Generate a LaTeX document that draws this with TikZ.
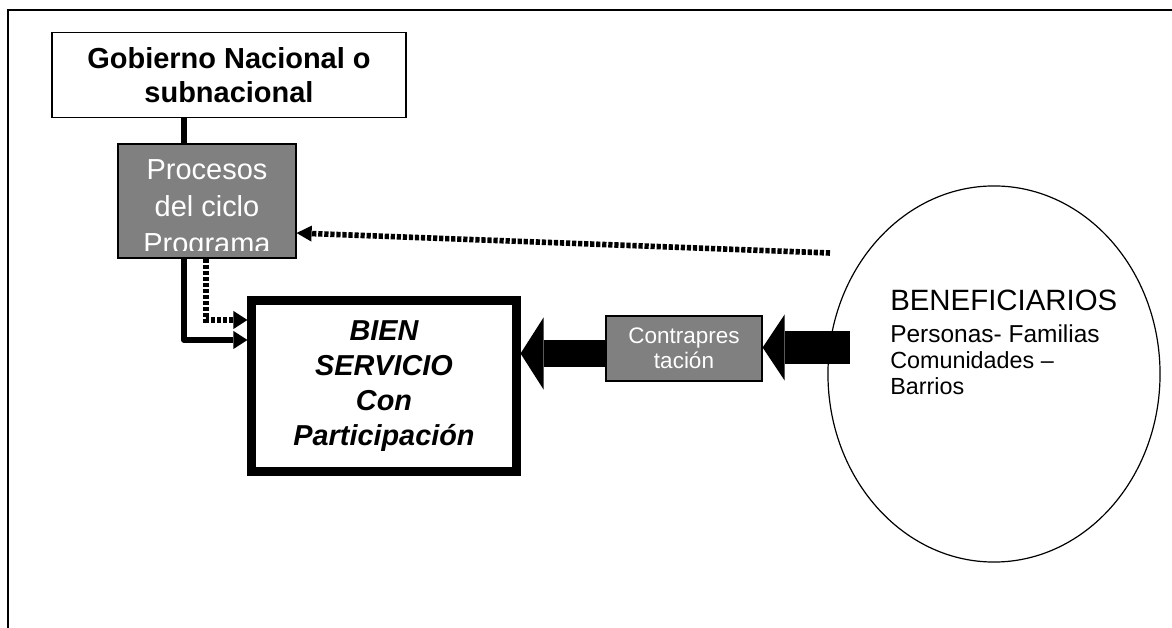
\documentclass[tikz,border=0pt]{standalone}
\usepackage{fontspec}
\setmainfont{Liberation Sans}
\usepackage{tikz}
\usetikzlibrary{arrows.meta,shapes.geometric,positioning}

\begin{document}
\begin{tikzpicture}[x=0.025cm, y=-0.025cm,
	box/.style={draw, line width=0.03cm, inner sep=0},
	greybox/.style={box, fill=black!50, text=white},
	conn/.style={line width=0.15cm, line join=round},
	dots/.style={line width=0.14cm, dash pattern=on 3pt off 1.3pt},
	tip/.style={-{Triangle[length=0.35cm, width=0.45cm, line width=0pt]}}]
	% page frame
	\useasboundingbox (0,0) rectangle (1172,628);
	\draw [line width=0.04cm] (1172,10) -- (8,10) -- (8,628);
	% boxes
	\node[box, minimum width=8.85cm, minimum height=2.125cm, align=center,
		font=\fontsize{20.6}{24.2}\selectfont\bfseries] (gob) at (229,75) {Gobierno Nacional o\\subnacional};
	\node[greybox, minimum width=4.45cm, minimum height=2.85cm,
		path picture={
			\clip (path picture bounding box.north west) rectangle ([yshift=0.2cm]path picture bounding box.south east);
			\node[anchor=north, inner sep=0, align=center, text=white, font=\fontsize{20.6}{26}\selectfont]
				at ([yshift=-0.2cm]path picture bounding box.north) {Procesos\\del ciclo\\Programa};
		}] (proc) at (207,201) {};
	\node[draw, line width=0.225cm, minimum width=6.6cm, minimum height=4.275cm, align=center,
		font=\fontsize{20.5}{25}\selectfont\bfseries\itshape] (bien) at (384,386) {BIEN\\SERVICIO\\Con\\Participación};
	\node[greybox, minimum width=3.9cm, minimum height=1.625cm, align=center,
		font=\fontsize{16}{18}\selectfont] (contra) at (684,348.5) {Contrapres\\tación};
	\node[draw, ellipse, line width=0.03cm, minimum width=8.3cm, minimum height=9.4cm, inner sep=0] (benef) at (994,374) {};
	% figure text
	\node[anchor=north west, inner sep=0, align=left, font=\fontsize{17.4}{18.5}\selectfont] (beneftxt) at (890,290)
		{{\fontsize{20.9}{22}\selectfont BENEFICIARIOS}\\[4pt]Personas- Familias\\{\fontsize{16.6}{18}\selectfont Comunidades –}\\{\fontsize{16.6}{18}\selectfont Barrios}};
	% links from the programme
	\draw [conn] ([xshift=-0.575cm]proc.north) -- ([xshift=-0.575cm]proc.north |- gob.south);
	\draw [conn, tip] ([xshift=-0.575cm]proc.south) |- ([yshift=1.15cm]bien.west);
	\draw [dots, tip] ([xshift=-0.025cm]proc.south) |- ([yshift=1.65cm]bien.west);
	% feedback from the beneficiaries
	\coordinate (fb) at (830,253);
	\draw [dots, -{Triangle[length=0.375cm, width=0.4cm, line width=0pt]}] (fb) -- ([yshift=-0.8cm]proc.east);
	% block arrows
	\coordinate (bin) at (850,347.5);
	\draw [line width=0.65cm, -{Triangle[length=0.575cm, width=1.8cm, line width=0pt]}] ([yshift=-0.125cm]contra.west) -- ([yshift=-0.125cm]contra.west -| bien.east);
	\draw [line width=0.825cm, -{Triangle[length=0.55cm, width=1.65cm, line width=0pt]}] (bin) -- (bin -| contra.east);
\end{tikzpicture}
\end{document}
